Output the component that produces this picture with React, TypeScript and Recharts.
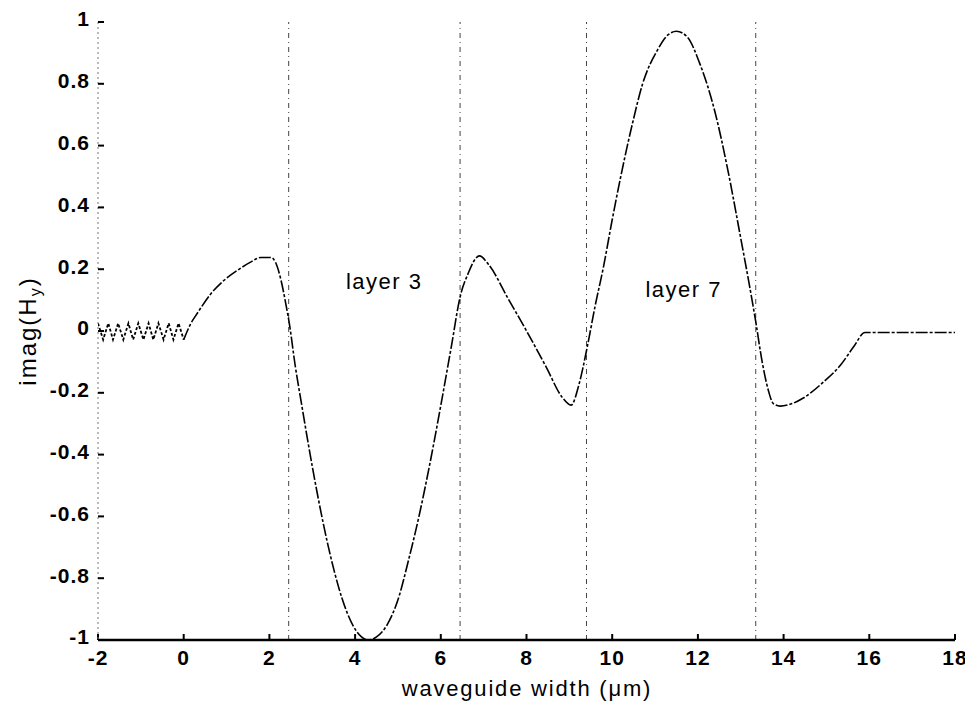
import { LineChart, Line, XAxis, YAxis, ReferenceLine, ReferenceDot, Label } from "recharts"

const xTicks = [-2, 0, 2, 4, 6, 8, 10, 12, 14, 16, 18]
const yTicks = [-1, -0.8, -0.6, -0.4, -0.2, 0, 0.2, 0.4, 0.6, 0.8, 1]

// interfaces between the layers
const layerEdges = [2.45, 6.45, 9.4, 13.35]

// rapid ripple left of x = 0
const rippleX = [-2, -1.88, -1.76, -1.65, -1.53, -1.41, -1.29, -1.18, -1.06, -0.94, -0.82, -0.71, -0.59, -0.47, -0.35, -0.24, -0.12, 0]
const rippleY = [0.025, -0.028, 0.025, -0.028, 0.025, -0.028, 0.025, -0.028, 0.025, -0.028, 0.025, -0.028, 0.025, -0.028, 0.025, -0.028, 0.025, -0.028]

// Imag(Hy) along the guide
const fieldX = [
  0, 0.15, 0.33, 0.63, 0.95, 1.26, 1.56, 1.8, 2.03, 2.15, 2.27, 2.38, 2.47, 2.6, 2.75, 3.0, 3.25, 3.5, 3.75, 4.0,
  4.15, 4.31, 4.5, 4.75, 5.0, 5.25, 5.5, 5.75, 6.0, 6.25, 6.45, 6.65, 6.82, 6.9, 7.12, 7.59, 7.99, 8.46, 8.83, 9.04,
  9.23, 9.42, 9.6, 9.8, 10.0, 10.2, 10.47, 10.71, 11.06, 11.3, 11.5, 11.75, 12.04, 12.4, 12.7, 13.0, 13.2, 13.35,
  13.5, 13.64, 13.76, 13.92, 14.2, 14.46, 14.93, 15.33, 15.63, 15.9, 18,
]
const fieldY = [
  -0.028, 0.02, 0.06, 0.12, 0.165, 0.197, 0.223, 0.238, 0.238, 0.22, 0.165, 0.09, 0.02, -0.11, -0.236, -0.438, -0.618, -0.77, -0.888, -0.965,
  -0.99, -1, -0.99, -0.95, -0.87, -0.74, -0.594, -0.426, -0.241, -0.047, 0.11, 0.19, 0.236, 0.243, 0.214, 0.1, 0.003, -0.117, -0.214, -0.24,
  -0.17, -0.05, 0.08, 0.21, 0.36, 0.5, 0.67, 0.8, 0.91, 0.958, 0.97, 0.952, 0.867, 0.708, 0.52, 0.3, 0.15, 0.03,
  -0.1, -0.19, -0.235, -0.243, -0.235, -0.217, -0.165, -0.11, -0.052, -0.005, -0.005,
]

const layerNames = ["layer 3", "layer 7"]
const layerNameX = [4.68, 11.67]
const layerNameY = [0.16, 0.135]

const ripple = rippleX.map((x, i) => ({ x, y: rippleY[i] }))
const field = fieldX.map((x, i) => ({ x, y: fieldY[i] }))

const font = "'Liberation Sans', Arial, sans-serif"
const xTickStyle = { fontSize: 21, fontWeight: 700, fill: "#000", fontFamily: font, letterSpacing: 1 }
const yTickStyle = { ...xTickStyle, dy: -3 }

export default function App() {
  return (
    <LineChart width={965} height={700} margin={{ top: 14, right: 18, bottom: 0, left: 0 }}>
      <XAxis
        xAxisId="bottom"
        type="number"
        dataKey="x"
        domain={[-2, 18]}
        ticks={xTicks}
        allowDataOverflow
        height={68}
        tickSize={-6}
        tickMargin={16}
        tick={xTickStyle}
        tickLine={{ stroke: "#000", strokeWidth: 2 }}
        axisLine={{ stroke: "#000", strokeWidth: 2.5 }}
      >
        <Label
          content={() => (
            <text x={519} y={688} textAnchor="middle" fontSize={22} letterSpacing={1.8} fontFamily={font} fill="#000">
              waveguide width (μm)
            </text>
          )}
        />
      </XAxis>
      <XAxis
        xAxisId="top"
        orientation="top"
        type="number"
        domain={[-2, 18]}
        ticks={xTicks}
        height={0}
        tickSize={-5}
        tickFormatter={() => ""}
        tickLine={{ stroke: "#000", strokeWidth: 1 }}
        axisLine={{ stroke: "#000", strokeWidth: 2 }}
      />
      <YAxis
        yAxisId="left"
        type="number"
        domain={[-1, 1]}
        ticks={yTicks}
        allowDataOverflow
        width={90}
        tickSize={-6}
        tickMargin={14}
        tick={yTickStyle}
        tickLine={{ stroke: "#000", strokeWidth: 2 }}
        axisLine={{ stroke: "#777", strokeWidth: 1, strokeDasharray: "2 3" }}
      >
        <Label
          content={() => (
            <text x={28} y={323} transform="rotate(-90 28 323)" textAnchor="middle" fontSize={24} letterSpacing={2} fontFamily={font} fill="#000">
              imag(H<tspan dy={5} fontSize={16}>y</tspan>
              <tspan dy={-5}>)</tspan>
            </text>
          )}
        />
      </YAxis>
      <YAxis
        yAxisId="right"
        orientation="right"
        type="number"
        domain={[-1, 1]}
        ticks={yTicks}
        width={0}
        tickSize={-6}
        tickFormatter={() => ""}
        tickLine={{ stroke: "#000", strokeWidth: 2 }}
        axisLine={{ stroke: "#777", strokeWidth: 1, strokeDasharray: "2 3" }}
      />
      {layerEdges.map((x) => (
        <ReferenceLine
          key={x}
          x={x}
          xAxisId="bottom"
          yAxisId="left"
          stroke="#444"
          strokeWidth={1}
          strokeDasharray="5 4 1 4"
        />
      ))}
      <Line
        data={ripple}
        xAxisId="bottom"
        yAxisId="left"
        dataKey="y"
        type="linear"
        stroke="#000"
        strokeWidth={1.8}
        strokeDasharray="3 2"
        dot={false}
        isAnimationActive={false}
      />
      <Line
        data={field}
        xAxisId="bottom"
        yAxisId="left"
        dataKey="y"
        type="monotone"
        stroke="#000"
        strokeWidth={1.6}
        strokeDasharray="12 2 3 2"
        dot={false}
        isAnimationActive={false}
      />
      {layerNames.map((name, i) => (
        <ReferenceDot
          key={name}
          xAxisId="bottom"
          yAxisId="left"
          x={layerNameX[i]}
          y={layerNameY[i]}
          r={0}
          fill="none"
          stroke="none"
          label={{ value: name, position: "center", fontSize: 22, letterSpacing: 1.5, fill: "#000", fontFamily: font }}
        />
      ))}
    </LineChart>
  )
}
